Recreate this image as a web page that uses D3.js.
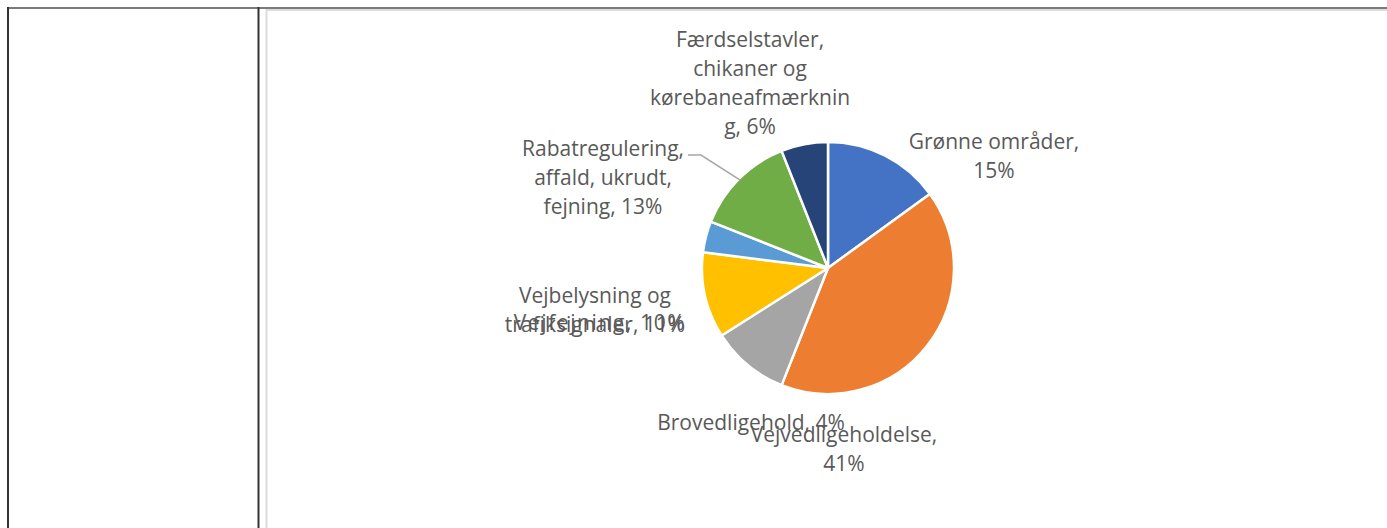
<!DOCTYPE html>
<html>
<head>
<meta charset="utf-8">
<script src="https://cdn.jsdelivr.net/npm/d3@7"></script>
<style>
  html, body { margin: 0; padding: 0; background: #fff; }
  svg { display: block; }
  .lbl { font-family: "Open Sans", sans-serif; font-size: 21px; fill: #595959; }
</style>
</head>
<body>
<svg id="chart" width="1387" height="528"></svg>
<script>
// ---- data ----
const categories = [
  "Grønne områder",
  "Vejvedligeholdelse",
  "Vejfejning",
  "Vejbelysning og trafiksignaler",
  "Brovedligehold",
  "Rabatregulering, affald, ukrudt, fejning",
  "Færdselstavler, chikaner og kørebaneafmærkning"
];
const values = [15, 41, 10, 11, 4, 13, 6];
const colors = ["#4472C4", "#ED7D31", "#A5A5A5", "#FFC000", "#5B9BD5", "#70AD47", "#264478"];
// label lines (text wrapping as in the original)
const labelLines = [
  ["Grønne områder,", "15%"],
  ["Vejvedligeholdelse,", "41%"],
  ["Vejfejning, 10%"],
  ["Vejbelysning og", "trafiksignaler, 11%"],
  ["Brovedligehold, 4%"],
  ["Rabatregulering,", "affald, ukrudt,", "fejning, 13%"],
  ["Færdselstavler,", "chikaner og", "kørebaneafmærknin", "g, 6%"]
];

// ---- layout ----
const svg = d3.select("#chart");
const cx = 828, cy = 268, R = 126;
const lineH = 29;
// label centre (x) and first-line centre (y), relative to pie centre
const labelPos = [
  [166, -126],
  [16, 167],
  [-228, 55],
  [-233, 28],
  [-77, 155],
  [-225, -119],
  [-78, -228]
];
const labelSpacing = [0, 0, 1.6, 0, 0, 0, 0];

// frame (table borders)
svg.append("line").attr("x1", 7).attr("x2", 1387).attr("y1", 8).attr("y2", 8)
  .attr("stroke", "#7a7a7a").attr("stroke-width", 2);
svg.append("line").attr("x1", 8).attr("x2", 8).attr("y1", 7).attr("y2", 528)
  .attr("stroke", "#333").attr("stroke-width", 2);
svg.append("line").attr("x1", 258.5).attr("x2", 258.5).attr("y1", 7).attr("y2", 528)
  .attr("stroke", "#333").attr("stroke-width", 2);
svg.append("line").attr("x1", 266.5).attr("x2", 266.5).attr("y1", 9).attr("y2", 528)
  .attr("stroke", "#dcdcdc").attr("stroke-width", 2);
svg.append("line").attr("x1", 266).attr("x2", 1387).attr("y1", 10).attr("y2", 10)
  .attr("stroke", "#dcdcdc").attr("stroke-width", 2);

// pie
const pie = d3.pie().sort(null).value(d => d)(values);
const arc = d3.arc().innerRadius(0).outerRadius(R);
const g = svg.append("g").attr("transform", `translate(${cx},${cy})`);
g.selectAll("path").data(pie).enter().append("path")
  .attr("d", arc)
  .attr("fill", (d, i) => colors[i])
  .attr("stroke", "#fff")
  .attr("stroke-width", 2.5)
  .attr("stroke-linejoin", "round");

// leader line for Rabatregulering
const gi = 5;
const mid = (pie[gi].startAngle + pie[gi].endAngle) / 2;
const pEdge = [Math.sin(mid) * R * 0.99, -Math.cos(mid) * R * 0.99];
g.append("polyline")
  .attr("points", [[-140, -113], [-127, -113], pEdge].map(p => p.join(",")).join(" "))
  .attr("fill", "none").attr("stroke", "#a6a6a6").attr("stroke-width", 1.5);

// labels
labelLines.forEach((lines, i) => {
  const t = g.append("text").attr("class", "lbl").attr("text-anchor", "middle")
    .style("letter-spacing", labelSpacing[i] + "px");
  lines.forEach((ln, j) => {
    t.append("tspan").attr("x", labelPos[i][0])
      .attr("y", labelPos[i][1] + j * lineH)
      .attr("dy", "0.35em").text(ln);
  });
});
</script>
</body>
</html>
